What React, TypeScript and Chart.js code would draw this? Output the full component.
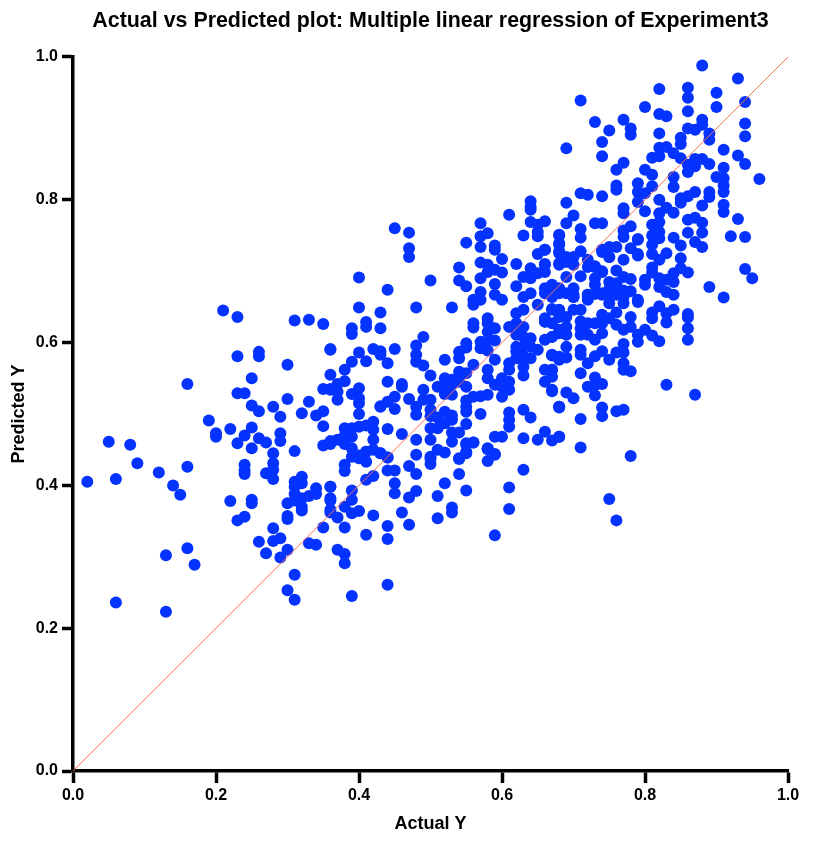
import React, { useEffect, useRef } from "react";
import { Chart, registerables } from "chart.js";

Chart.register(...registerables);

const chartTitle = "Actual vs Predicted plot: Multiple linear regression of Experiment3";
const xAxisTitle = "Actual Y";
const yAxisTitle = "Predicted Y";
const identityX = [0, 1];
const identityY = [0, 1];

const actualLow = [
  .21,.23,.31,.33,.35,.23,.26,.26,.30,.25,.16,.23,.24,.30,.35,.36,.25,.26,.28,.29,.33,.32,.34,.35,.35,.19,.20,.20,.22,.24,.25,.23,.25,.26,.27,.29,.29,.31,.35,.36,.28,.28,.28,.27,.28,.24,.24,.24,
  .05,.08,.09,.12,.16,.14,.15,.02,.06,.22,.25,.25,.23,.24,.31,.32,.32,.31,.31,.30,.31,.32,.33,.34,.34,.32,.32,.30,.30,.36,.36,.36,.35,.28,.29,.28,.26,.27,.29,.30,.33,.34,.31,.30,.31,.16,.13,.17,.06,.13,.36,.36,.36,
];
const predictedLow = [
  .645,.636,.631,.632,.626,.581,.587,.581,.569,.550,.542,.529,.529,.521,.535,.535,.512,.504,.510,.496,.517,.501,.498,.504,.483,.491,.473,.468,.479,.470,.481,.459,.452,.466,.460,.473,.462,.448,.456,.458,.445,.431,.422,.417,.409,.429,.421,.416,
  .461,.457,.431,.418,.426,.400,.387,.405,.409,.378,.380,.375,.351,.356,.405,.412,.403,.398,.388,.375,.379,.382,.385,.396,.388,.370,.365,.357,.353,.398,.379,.362,.341,.340,.326,.322,.321,.305,.299,.310,.319,.317,.275,.253,.240,.312,.302,.289,.236,.223,.590,.555,.591,
];

const actualMid = [
  .45,.47,.47,.47,.40,.44,.50,.40,.43,.48,.53,.41,.41,.39,.39,.43,.49,.48,.48,.48,.49,.40,.42,.43,.43,.44,.45,.39,.41,.38,.38,.37,.37,.37,.36,.39,.40,.40,.40,.40,.43,.44,.44,.45,.45,.46,.46,.47,.49,.48,.48,.49,.50,.50,.50,.50,
  .52,.51,.52,.52,.53,.52,.54,.55,.56,.54,.53,.55,.53,.54,.54,.55,.55,.54,.54,.55,.55,.57,.57,.57,.58,.59,.59,.60,.61,.64,.63,.65,.65,.68,.68,.65,.66,.66,.68,.68,.62,
  .57,.58,.57,.58,.59,.60,.59,.59,.60,.57,.57,.56,.56,.62,.63,.64,.63,.64,.64,.65,.66,.66,.67,.66,.68,.65,.67,.66,.66,.67,.58,.58,.56,.56,.58,.59,.57,.57,.58,.58,.59,.59,.61,
  .62,.63,.62,.63,.62,.63,.64,.62,.63,.64,.62,.63,.64,.65,.66,.67,.68,.67,.68,.67,.66,.66,.67,.68,.61,.61,.62,.63,.63,.58,.58,.60,.59,.60,.61,.61,.60,
  .58,.57,.56,.55,.55,.55,.57,.61,.63,.64,.68,.61,.61,.55,.52,.53,.53,.51,.52,.51,.50,.53,.54,.53,.44,.46,.48,.50,.48,.50,.59,.60,.63,.65,.66,.67,.68,.56,.55,.55,.54,.58,.59,.51,.52,
  .42,.41,.40,.39,.38,.38,.37,.36,.39,.38,.39,.42,.42,.42,.41,.40,.39,.43,.44,.64,.64,.64,.66,.65,
];
const predictedMid = [
  .760,.754,.732,.720,.691,.674,.687,.649,.642,.649,.649,.629,.622,.620,.612,.620,.608,.596,.583,.573,.568,.586,.591,.588,.583,.571,.591,.573,.574,.562,.546,.542,.531,.520,.534,.528,.536,.522,.515,.500,.510,.517,.545,.524,.507,.542,.538,.521,.534,.510,.499,.520,.554,.520,.506,.497,
  .576,.538,.550,.536,.548,.528,.559,.557,.569,.545,.541,.538,.527,.587,.578,.599,.593,.705,.687,.740,.679,.767,.749,.734,.753,.736,.730,.717,.779,.769,.750,.755,.749,.750,.739,.724,.730,.710,.728,.709,.710,
  .712,.709,.690,.699,.702,.698,.682,.667,.660,.671,.660,.660,.653,.679,.664,.669,.692,.704,.690,.697,.699,.676,.678,.669,.676,.653,.647,.629,.634,.627,.634,.627,.627,.621,.615,.620,.601,.592,.603,.589,.603,.576,.622,
  .641,.646,.627,.622,.611,.608,.606,.594,.594,.594,.588,.581,.578,.590,.604,.608,.613,.582,.580,.562,.562,.545,.534,.510,.571,.562,.578,.566,.554,.562,.550,.550,.541,.538,.545,.534,.524,
  .527,.525,.524,.519,.510,.503,.500,.502,.506,.495,.510,.492,.482,.486,.503,.498,.492,.495,.487,.480,.480,.474,.474,.461,.479,.472,.464,.464,.443,.440,.468,.468,.466,.464,.475,.463,.468,.460,.457,.445,.438,.452,.443,.450,.446,
  .489,.484,.482,.480,.480,.470,.464,.462,.468,.458,.452,.478,.464,.450,.447,.442,.440,.445,.439,.798,.790,.786,.770,.765,
];

const actualBelow = [
  .43,.50,.50,.54,.55,.55,.56,.58,.58,.59,.58,.63,.47,.48,.44,.45,.45,.45,.42,.41,.52,.54,.55,.51,.48,.47,.61,.61,.39,.39,.38,.39,.40,.42,.36,.36,.36,.37,.38,.41,.44,.44,.46,.47,.51,.53,.53,.59,.37,.38,.38,.44,.39,.41,.40,.41,.38,.38,.43,.44,
];
const predictedBelow = [
  .511,.437,.430,.437,.459,.447,.460,.451,.451,.444,.434,.422,.427,.416,.421,.421,.403,.389,.413,.408,.403,.416,.393,.385,.392,.383,.397,.367,.393,.380,.370,.361,.364,.358,.398,.382,.366,.355,.341,.331,.343,.325,.362,.345,.354,.369,.362,.330,.310,.304,.291,.261,.245,.447,.438,.433,.429,.420,.445,.439,
];

const actualHigh = [
  .88,.93,.82,.86,.86,.86,.90,.90,.94,.94,.94,.71,.73,.80,.82,.83,.77,.78,.78,.75,.74,.74,.69,.82,.88,.86,.87,.88,.89,.89,.85,.85,.91,.93,.94,.96,
  .82,.83,.81,.82,.84,.85,.86,.86,.87,.87,.88,.89,.77,.76,.80,.81,.84,.84,.91,.90,.91,.91,.91,.76,.76,.79,.79,.79,.81,.80,.87,.86,.85,.85,.89,.89,.71,.72,.74,.69,.82,.88,.91,.91,.77,.77,.80,
  .70,.69,.73,.74,.71,.71,.68,.68,.68,.83,.84,.82,.82,.81,.82,.81,.82,.86,.87,.88,.86,.88,.87,.88,.93,.92,.94,.78,.77,.77,.79,.78,.76,.75,.74,.75,.77,.79,
  .84,.85,.83,.81,.82,.81,.85,.86,.85,.81,.81,.84,.84,.82,.83,.80,.80,.82,.83,.84,.89,.91,.94,.95,.79,
  .71,.70,.69,.68,.72,.73,.74,.71,.73,.69,.70,.76,.77,.78,.75,.76,.75,.77,.78,.67,.68,.70,.67,.72,.74,.76,.77,
];
const predictedHigh = [
  .988,.970,.955,.957,.943,.924,.950,.930,.937,.907,.889,.939,.909,.930,.920,.917,.912,.900,.891,.897,.881,.861,.872,.893,.912,.900,.898,.905,.893,.884,.887,.878,.870,.862,.850,.829,
  .873,.874,.859,.861,.865,.858,.849,.839,.857,.847,.857,.850,.852,.842,.842,.835,.832,.818,.845,.832,.830,.820,.811,.820,.814,.823,.811,.797,.819,.809,.811,.805,.802,.796,.811,.804,.809,.807,.805,.796,.800,.792,.793,.783,.788,.781,.784,
  .778,.767,.767,.767,.759,.747,.751,.737,.725,.789,.782,.781,.769,.765,.755,.750,.746,.772,.775,.768,.754,.754,.741,.734,.773,.749,.748,.763,.757,.748,.744,.732,.734,.734,.730,.720,.716,.724,
  .747,.736,.725,.737,.716,.724,.718,.698,.704,.705,.698,.697,.685,.690,.688,.688,.681,.678,.671,.667,.678,.663,.703,.690,.660,
  .728,.720,.720,.711,.716,.707,.700,.693,.681,.692,.676,.701,.692,.689,.685,.683,.675,.673,.672,.681,.669,.667,.664,.667,.667,.667,.664,
];

const actualCore = [
  .79,.82,.81,.81,.83,.84,.83,.86,.86,.86,.86,.78,.78,.77,.76,.80,.79,.79,.81,.82,.77,.76,.77,.74,.73,.75,.72,.71,.71,.77,.77,.78,.71,.73,.72,.73,.74,.73,.83,.87,.69,.70,.67,.68,.74,.74,.76,.77,.71,.71,.68,.78,.75,.76,
  .67,.68,.69,.70,.71,.68,.69,.68,.69,.67,.69,.69,.68,.67,.67,.67,.71,.72,.73,.74,.75,.76,.71,.71,.72,.73,.74,.74,.72,.72,.75,.77,.70,.69,.70,.75,
  .69,.70,.72,.73,.74,.79,.79,.74,.75,.73,.66,.66,.72,.73,.74,
];
const predictedCore = [
  .657,.651,.642,.634,.641,.646,.628,.640,.635,.620,.604,.636,.622,.618,.625,.618,.611,.601,.610,.602,.598,.586,.586,.588,.581,.576,.571,.590,.583,.571,.562,.560,.557,.551,.538,.540,.542,.526,.541,.527,.530,.522,.532,.509,.509,.497,.504,.506,.493,.453,.468,.441,.381,.351,
  .646,.636,.636,.646,.646,.646,.622,.618,.611,.608,.594,.579,.576,.583,.562,.552,.630,.627,.627,.639,.634,.642,.620,.611,.611,.604,.613,.627,.667,.660,.655,.655,.664,.669,.664,.669,
  .713,.709,.706,.706,.699,.745,.722,.727,.720,.690,.730,.709,.664,.668,.669,
];

const actualY = [...actualLow, ...actualMid, ...actualBelow, ...actualHigh, ...actualCore];
const predictedY = [...predictedLow, ...predictedMid, ...predictedBelow, ...predictedHigh, ...predictedCore];

export default function App() {
  const ref = useRef<HTMLCanvasElement>(null);
  useEffect(() => {
    const family = "'Liberation Sans', Arial, sans-serif";
    const tickFont = { family, size: 16, weight: "bold" };
    const axisFont = { family, size: 18, weight: "bold" };
    const chart = new Chart(ref.current!, {
      type: "scatter",
      data: {
        datasets: [
          {
            type: "line",
            data: identityX.map((x, i) => ({ x, y: identityY[i] })),
            borderColor: "#ff6a58",
            borderWidth: 1,
            pointRadius: 0,
            fill: false,
          },
          {
            type: "scatter",
            data: actualY.map((x, i) => ({ x, y: predictedY[i] })),
            backgroundColor: "#0433ff",
            borderWidth: 0,
            pointRadius: 6,
            clip: false,
          },
        ],
      } as any,
      options: {
        responsive: false,
        animation: false,
        layout: { padding: { left: 0, right: 42, top: 0, bottom: 0 } },
        plugins: {
          legend: { display: false },
          tooltip: { enabled: false },
          title: {
            display: true,
            text: chartTitle,
            fullSize: false,
            color: "#000",
            font: { family, size: 21.4, weight: "bold", lineHeight: 1.2 },
            padding: { top: 8, bottom: 23.3 },
          },
        },
        scales: {
          x: {
            type: "linear",
            min: 0,
            max: 1,
            afterFit: (s: any) => { s.height = 72; },
            border: { color: "#000", width: 3.5 },
            grid: { drawOnChartArea: false, drawTicks: true, tickLength: 12, tickWidth: 3.5, tickColor: "#000" },
            ticks: {
              stepSize: 0.2,
              color: "#000",
              padding: 3,
              maxRotation: 0,
              font: tickFont,
              callback: (v: any) => Number(v).toFixed(1),
            },
            title: {
              display: true,
              text: xAxisTitle,
              color: "#000",
              font: axisFont,
              padding: { top: 4, bottom: 8 },
            },
          },
          y: {
            type: "linear",
            min: 0,
            max: 1,
            afterFit: (s: any) => { s.width = 73; },
            border: { color: "#000", width: 3.5 },
            grid: { drawOnChartArea: false, drawTicks: true, tickLength: 11, tickWidth: 3.5, tickColor: "#000" },
            ticks: {
              stepSize: 0.2,
              color: "#000",
              padding: 4,
              font: tickFont,
              callback: (v: any) => Number(v).toFixed(1),
            },
            title: {
              display: true,
              text: yAxisTitle,
              color: "#000",
              font: axisFont,
              padding: { top: 8, bottom: 4 },
            },
          },
        },
      },
    } as any);
    return () => chart.destroy();
  }, []);
  return (
    <div style={{ position: "absolute", left: 0, top: 0, width: 830, height: 843, background: "#fff" }}>
      <canvas ref={ref} width={830} height={843} style={{ display: "block" }} />
    </div>
  );
}
